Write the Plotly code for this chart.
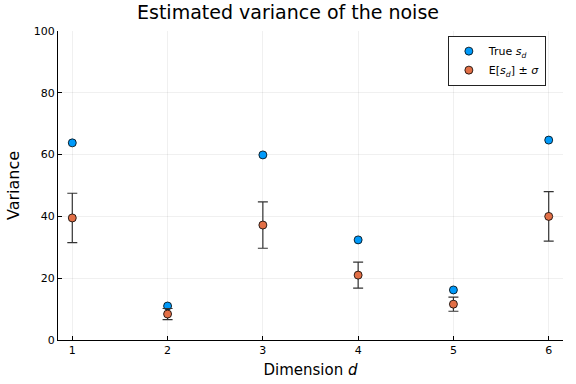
import plotly.graph_objects as go

dims = [1, 2, 3, 4, 5, 6]
true_s = [63.8, 11.0, 59.9, 32.4, 16.2, 64.7]
est_mean = [39.5, 8.4, 37.2, 21.0, 11.6, 40.0]
est_std = [8.0, 1.8, 7.5, 4.2, 2.3, 8.0]

fig = go.Figure()
fig.add_trace(go.Scatter(
    x=dims, y=true_s, mode="markers", name="True <i>s</i><sub><i>d</i></sub>",
    marker=dict(color="#009AFA", size=8, line=dict(color="black", width=0.8)),
))
fig.add_trace(go.Scatter(
    x=dims, y=est_mean, mode="markers", name="E[<i>s</i><sub><i>d</i></sub>] ± <i>σ</i>",
    marker=dict(color="#E26F46", size=8, line=dict(color="black", width=0.8)),
    error_y=dict(type="data", array=est_std, color="#333333", thickness=1.2, width=5),
))

fig.update_layout(
    width=576, height=384,
    paper_bgcolor="white", plot_bgcolor="white",
    margin=dict(l=58, r=13, t=31, b=44),
    font=dict(family="DejaVu Sans", color="black", size=11),
    title=dict(text="Estimated variance of the noise", x=0.5, xanchor="center",
               y=1 - 12 / 384, yanchor="middle", font=dict(size=19)),
    showlegend=True,
    legend=dict(x=0.772, y=0.985, xanchor="left", yanchor="top",
                bordercolor="#222222", borderwidth=1, bgcolor="white",
                font=dict(size=11), tracegroupgap=0),
    xaxis=dict(range=[0.85, 6.15], tickvals=dims, ticktext=[str(d) for d in dims],
               showgrid=True, gridcolor="rgba(0,0,0,0.06)", gridwidth=1,
               showline=True, linecolor="black", linewidth=1,
               ticks="inside", ticklen=4, tickcolor="black",
               zeroline=False, mirror=False, automargin=False,
               title=dict(text="Dimension <i>d</i>", font=dict(size=15), standoff=8)),
    yaxis=dict(range=[0, 100], tickvals=[0, 20, 40, 60, 80, 100],
               showgrid=True, gridcolor="rgba(0,0,0,0.06)", gridwidth=1,
               showline=True, linecolor="black", linewidth=1,
               ticks="inside", ticklen=4, tickcolor="black",
               zeroline=False, mirror=False, automargin=False,
               title=dict(text="Variance", font=dict(size=16), standoff=10)),
)

fig.write_html("out.html", config={"displayModeBar": False},
               post_script="document.body.style.margin='0';")
